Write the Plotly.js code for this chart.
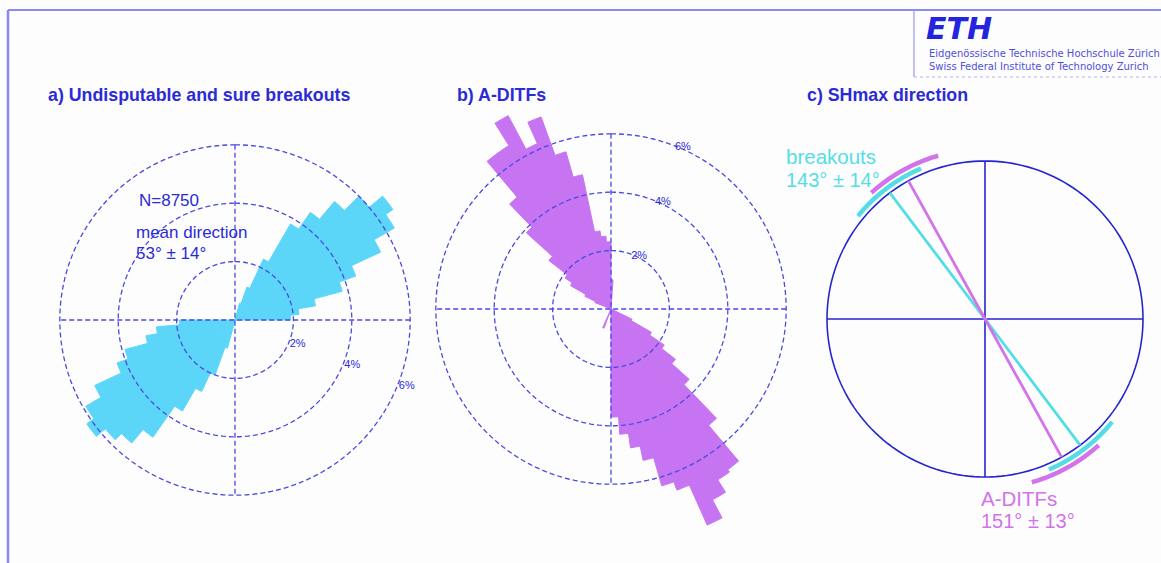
<!DOCTYPE html>
<html>
<head>
<meta charset="utf-8">
<script src="https://cdn.plot.ly/plotly-3.0.1.min.js"></script>
<style>
  html, body { margin: 0; padding: 0; background: #fdfdfe; }
  #chart { width: 1161px; height: 563px; }
</style>
</head>
<body>
<div id="chart"></div>
<script>
// ---- a) breakouts rose (5° bins, % of measurements) ----
const breakoutBinStart = [15, 20, 25, 30, 35, 40, 45, 50, 55, 60, 65, 70, 75, 80, 85,
                          195, 200, 205, 210, 215, 220, 225, 230, 235, 240, 245, 250, 255, 260, 265];
const breakoutPct = [0.6, 1.2, 2.3, 3.8, 4.5, 5.3, 6.0, 6.6, 6.3, 5.5, 4.4, 3.8, 2.8, 2.2, 1.9,
                     1.0, 2.0, 2.7, 3.6, 4.9, 5.5, 5.8, 6.2, 5.9, 5.3, 4.3, 3.9, 3.1, 2.7, 1.9];
const breakoutBinWidth = 5;
const breakoutCount = 8750;
const breakoutMean = 53;
const breakoutStd = 14;

// ---- b) A-DITFs rose (4° bins, % of measurements) ----
const ditfBinStart = [116, 120, 124, 128, 132, 136, 140, 144, 148, 152, 156, 160, 164, 168, 172, 176,
                      200,
                      292, 296, 300, 304, 308, 312, 316, 320, 324, 328, 332, 336, 340, 344, 348, 352, 356, 0];
const ditfPct = [0.8, 1.6, 2.2, 2.8, 3.6, 5.2, 6.8, 6.9, 7.4, 8.1, 6.6, 6.3, 5.3, 4.8, 4.3, 3.7,
                 0.7,
                 0.6, 1.0, 1.6, 1.9, 2.7, 3.9, 5.0, 6.6, 6.6, 7.5, 6.2, 7.0, 5.6, 4.7, 2.7, 2.5, 2.3, 1.0];
const ditfBinWidth = 4;

// ---- c) SHmax directions (azimuth, ± one standard deviation) ----
const shmaxNames = ['breakouts', 'A-DITFs'];
const shmaxMean = [143, 151];
const shmaxStd = [14, 13];

const ringPct = [2, 4, 6];

// ---- styling ----
const W = 1161, H = 563;
const BLUE = '#2b2bd6';
const RING = '#4a4ae0';
const CYAN = '#5cd6f8';
const VIOLET = '#c774f2';
const C_CYAN = '#55dde6';
const C_MAG = '#d273ea';
const FONT = 'Liberation Sans, Arial, sans-serif';

function domain(cx, cy, R) {
  return { x: [(cx - R) / W, (cx + R) / W], y: [1 - (cy + R) / H, 1 - (cy - R) / H] };
}
function px(x) { return x / W; }
function py(y) { return 1 - y / H; }

function circle(r, subplot, style) {
  const th = [], rr = [];
  for (let a = 0; a <= 360; a += 2) { th.push(a); rr.push(r); }
  return { type: 'scatterpolar', subplot, r: rr, theta: th, mode: 'lines',
           line: style, hoverinfo: 'skip', showlegend: false };
}
function cross(r, subplot, style) {
  return [
    { type: 'scatterpolar', subplot, r: [r, 0, r], theta: [0, 0, 180], mode: 'lines', line: style, hoverinfo: 'skip', showlegend: false },
    { type: 'scatterpolar', subplot, r: [r, 0, r], theta: [90, 90, 270], mode: 'lines', line: style, hoverinfo: 'skip', showlegend: false }
  ];
}

const ringStyle = { color: RING, width: 1.3, dash: '5px,3px' };
const data = [];

// rose a
data.push({
  type: 'barpolar', subplot: 'polar',
  r: breakoutPct,
  theta: breakoutBinStart.map(t => t + breakoutBinWidth / 2),
  width: breakoutBinStart.map(() => breakoutBinWidth),
  marker: { color: CYAN, line: { width: 1, color: CYAN } }, showlegend: false
});
// rose b
data.push({
  type: 'barpolar', subplot: 'polar2',
  r: ditfPct,
  theta: ditfBinStart.map(t => t + ditfBinWidth / 2),
  width: ditfBinStart.map(() => ditfBinWidth),
  marker: { color: VIOLET, line: { width: 1, color: VIOLET } }, showlegend: false
});

// rings, crosshairs and ring labels for a and b
ringPct.forEach(p => data.push(circle(p, 'polar', ringStyle)));
data.push(...cross(ringPct[ringPct.length - 1], 'polar', ringStyle));
ringPct.forEach(p => data.push(circle(p, 'polar2', ringStyle)));
data.push(...cross(ringPct[ringPct.length - 1], 'polar2', ringStyle));

data.push({
  type: 'scatterpolar', subplot: 'polar', mode: 'text',
  r: ringPct.map(p => p + 0.3), theta: ringPct.map(() => 111),
  text: ringPct.map(p => p + '%'),
  textfont: { family: FONT, size: 11, color: BLUE }, hoverinfo: 'skip', showlegend: false
});
data.push({
  type: 'scatterpolar', subplot: 'polar2', mode: 'text',
  r: ringPct.map(p => p + 0.05), theta: ringPct.map((p, i) => 28 - i * 2),
  text: ringPct.map(p => p + '%'),
  textfont: { family: FONT, size: 11, color: BLUE }, hoverinfo: 'skip', showlegend: false
});

// panel c: unit circle, crosshair, mean directions and ±std arcs
const solid = { color: '#2525d0', width: 1.6 };
data.push(circle(1, 'polar3', solid));
data.push(...cross(1, 'polar3', solid));

const arcRadius = [1.035, 1.075];
const lineColors = [C_CYAN, C_MAG];
shmaxMean.forEach((m, i) => {
  data.push({
    type: 'scatterpolar', subplot: 'polar3', mode: 'lines',
    r: [1, 0, 1], theta: [m + 180, 0, m],
    line: { color: lineColors[i], width: 2.8 }, hoverinfo: 'skip', showlegend: false
  });
});
shmaxMean.forEach((m, i) => {
  [m, m + 180].forEach(c => {
    const th = [], rr = [];
    for (let a = c - shmaxStd[i]; a <= c + shmaxStd[i] + 0.01; a += 1) { th.push(a); rr.push(arcRadius[i]); }
    data.push({
      type: 'scatterpolar', subplot: 'polar3', mode: 'lines', r: rr, theta: th,
      line: { color: lineColors[i], width: 4.5 }, hoverinfo: 'skip', showlegend: false
    });
  });
});

const hiddenAngular = { rotation: 90, direction: 'clockwise', showgrid: false, showline: false,
                        showticklabels: false, ticks: '' };
const hiddenRadial = (max) => ({ range: [0, max], visible: false, showgrid: false, showline: false });

const titleFont = { size: 17.8, color: BLUE, family: FONT, weight: 'bold' };
const noteFont = { size: 17, color: BLUE, family: FONT };
const annotations = [
  { text: 'a) Undisputable and sure breakouts', x: px(46), y: py(95), font: titleFont },
  { text: 'b) A-DITFs', x: px(455), y: py(95), font: titleFont },
  { text: 'c) SHmax direction', x: px(805), y: py(95), font: titleFont },
  { text: 'N=' + breakoutCount, x: px(137), y: py(200), font: noteFont },
  { text: 'mean direction', x: px(134), y: py(233), font: noteFont },
  { text: breakoutMean + '° ± ' + breakoutStd + '°', x: px(134), y: py(253), font: noteFont },
  { text: shmaxNames[0], x: px(784), y: py(156), font: { size: 20.5, color: C_CYAN, family: FONT } },
  { text: shmaxMean[0] + '° ± ' + shmaxStd[0] + '°', x: px(784), y: py(180), font: { size: 20, color: C_CYAN, family: FONT } },
  { text: shmaxNames[1], x: px(979), y: py(498), font: { size: 20.5, color: C_MAG, family: FONT } },
  { text: shmaxMean[1] + '° ± ' + shmaxStd[1] + '°', x: px(979), y: py(521), font: { size: 20, color: C_MAG, family: FONT } },
  { text: 'ETH', x: px(924), y: py(28), font: { size: 30, color: '#2323e0', family: 'DejaVu Sans, sans-serif', weight: 'bold', style: 'italic' } },
  { text: 'Eidgenössische Technische Hochschule Zürich', x: px(927), y: py(53), font: { size: 10, color: '#5050d8', family: 'DejaVu Sans, sans-serif' } },
  { text: 'Swiss Federal Institute of Technology Zurich', x: px(927), y: py(66), font: { size: 10, color: '#5050d8', family: 'DejaVu Sans, sans-serif' } }
].map(a => Object.assign({ xref: 'paper', yref: 'paper', xanchor: 'left', yanchor: 'middle', showarrow: false }, a));

const frame = '#8a8af6';
const shapes = [
  { type: 'line', xref: 'paper', yref: 'paper', x0: px(8), x1: 1, y0: py(10), y1: py(10), line: { color: frame, width: 2 } },
  { type: 'line', xref: 'paper', yref: 'paper', x0: px(8), x1: px(8), y0: py(10), y1: 0, line: { color: frame, width: 2.5 } },
  { type: 'line', xref: 'paper', yref: 'paper', x0: px(914), x1: px(914), y0: py(10), y1: py(77), line: { color: '#9a9af0', width: 1.2 } },
  { type: 'line', xref: 'paper', yref: 'paper', x0: px(914), x1: 1, y0: py(77), y1: py(77), line: { color: '#b4b4f0', width: 1, dash: 'dot' } }
];

const layout = {
  width: W, height: H,
  margin: { l: 0, r: 0, t: 0, b: 0 },
  paper_bgcolor: '#fdfdfe',
  showlegend: false,
  polar:  { domain: domain(235, 320, 8 * 29.2),   bgcolor: 'rgba(0,0,0,0)', radialaxis: hiddenRadial(8),   angularaxis: hiddenAngular },
  polar2: { domain: domain(611, 309, 8.4 * 29.2), bgcolor: 'rgba(0,0,0,0)', radialaxis: hiddenRadial(8.4), angularaxis: hiddenAngular },
  polar3: { domain: domain(985, 319, 1.1 * 158),  bgcolor: 'rgba(0,0,0,0)', radialaxis: hiddenRadial(1.1), angularaxis: hiddenAngular },
  annotations, shapes
};

Plotly.newPlot('chart', data, layout, { displayModeBar: false, staticPlot: true });
</script>
</body>
</html>
